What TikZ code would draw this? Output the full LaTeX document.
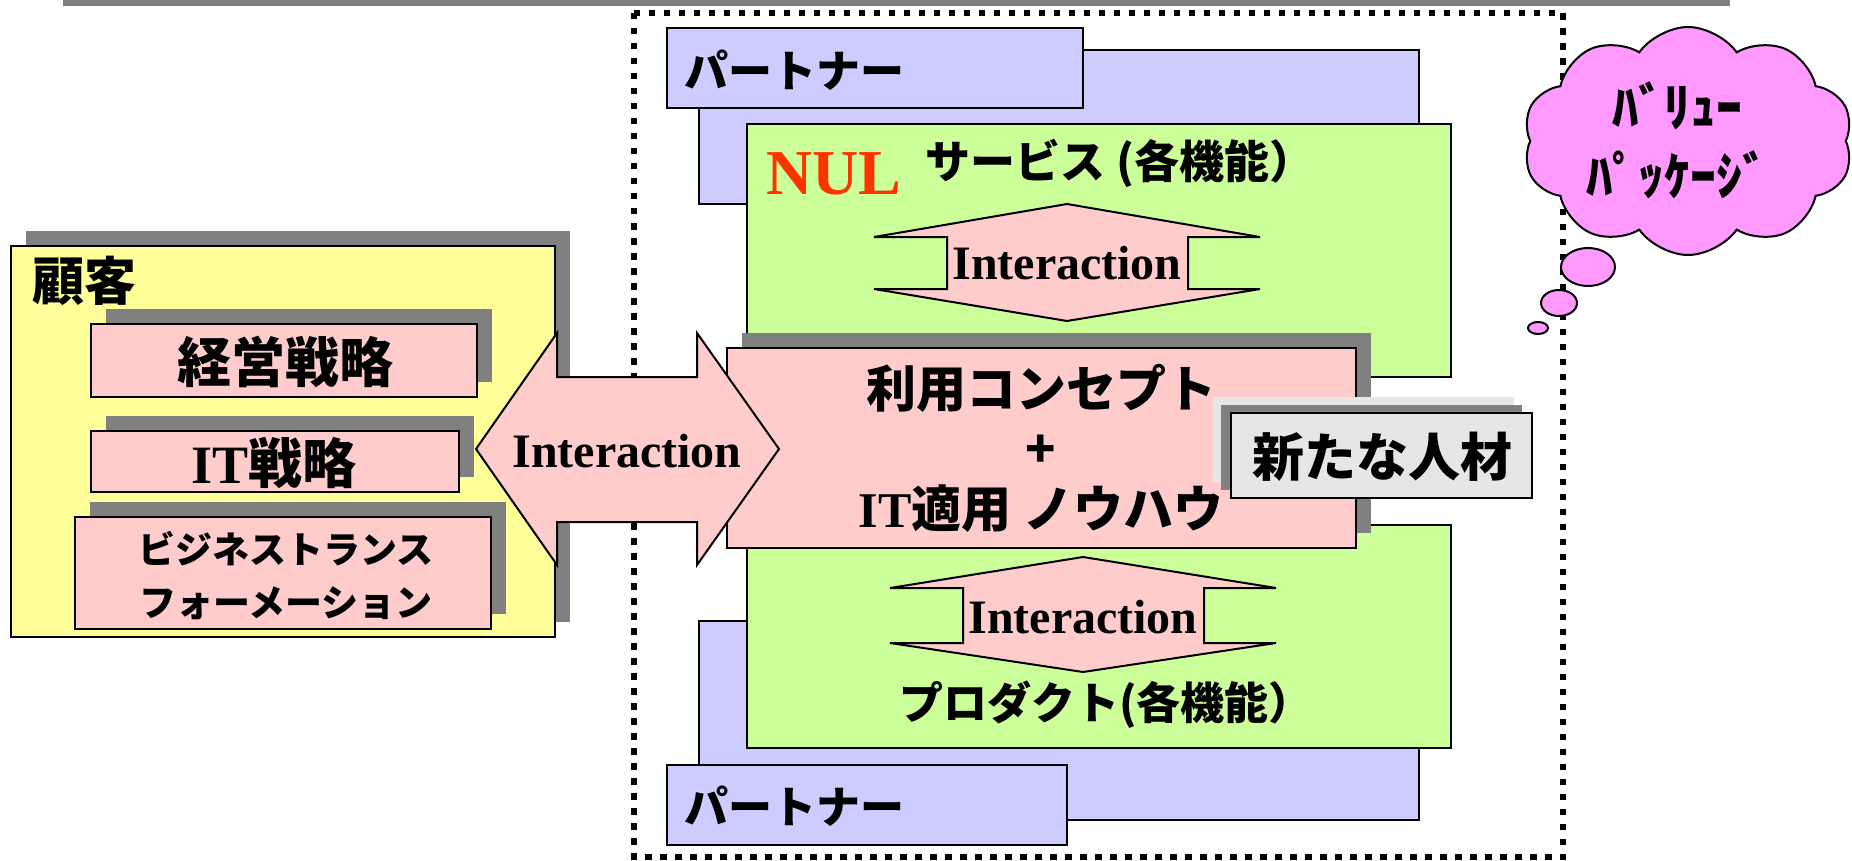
\documentclass[tikz,border=0pt]{standalone}
\usepackage{fontspec}
\setmainfont{Liberation Serif}
\newfontfamily\jp{Noto Sans CJK JP}
\usetikzlibrary{shapes.symbols,shadows}
\definecolor{sgray}{HTML}{808080}
\definecolor{lgray}{HTML}{E6E6E6}
\definecolor{ylw}{HTML}{FFFF99}
\definecolor{pnk}{HTML}{FFCCCC}
\definecolor{grn}{HTML}{CCFF99}
\definecolor{lav}{HTML}{CCCCFF}
\definecolor{cpink}{HTML}{FF99FF}
\definecolor{nulred}{HTML}{FF3300}
\newcommand{\myfs}[2]{\fontsize{#1}{#2}\selectfont}
\begin{document}
\begin{tikzpicture}[x=1pt,y=-1pt,
  box/.style={draw=black, line width=2pt, anchor=north west, inner sep=0pt, outer sep=0pt},
  shd/.style={drop shadow={shadow xshift=15pt, shadow yshift=15pt, fill=sgray, opacity=1}},
  shdn/.style={drop shadow={shadow xshift=-18pt, shadow yshift=16pt, fill=lgray, opacity=1},
               drop shadow={shadow xshift=-10pt, shadow yshift=8pt, fill=sgray, opacity=1}},
  jtext/.style={inner sep=0pt, align=center},
  arr/.style={draw=black, line width=2pt, fill=pnk, line join=miter},
  itext/.style={inner sep=0pt, font=\bfseries\myfs{48}{48}},
  bub/.style={draw=black, line width=2pt, fill=cpink}]
\useasboundingbox (0,0) rectangle (1852,861);
% top bar
\fill[sgray] (63,0) rectangle (1730,6);
% dotted frame
\draw[line width=6.5pt, dash pattern=on 6.5pt off 8.5pt] (634,13) rectangle (1563,857);
% partners
\node[box, fill=lav, minimum width=720pt, minimum height=154pt] (ptb) at (699,50) {};
\node[box, fill=lav, minimum width=416pt, minimum height=80pt] (ptf) at (667,28) {};
\node[jtext, anchor=west, font=\jp\bfseries\myfs{44}{44}] (ptt) at (684,70) {パートナー};
\node[box, fill=lav, minimum width=720pt, minimum height=199pt] (pbb) at (699,621) {};
\node[box, fill=lav, minimum width=400pt, minimum height=80pt] (pbf) at (667,765) {};
\node[jtext, anchor=west, font=\jp\bfseries\myfs{44}{44}] (pbt) at (684,806) {パートナー};
% green boxes
\node[box, fill=grn, minimum width=704pt, minimum height=253pt] (svc) at (747,124) {};
\node[box, fill=grn, minimum width=704pt, minimum height=223pt] (prd) at (747,525) {};
\node[anchor=base west, inner sep=0pt, text=nulred, font=\bfseries\myfs{64}{64}] (nul) at (766,195) {NUL};
\node[jtext, font=\jp\bfseries\myfs{45}{45}] (svct) at (1120,163) {サービス (各機能）};
\node[jtext, font=\jp\bfseries\myfs{44}{44}] (prdt) at (1106,705) {プロダクト(各機能）};
% small interaction arrows
\draw[arr] (1067,204) -- (1260,237) -- (1188,237) -- (1188,289) -- (1260,289) -- (1067,321) -- (874,289) -- (947,289) -- (947,237) -- (874,237) -- cycle;
\node[itext] (svci) at (1067,263) {Interaction};
\draw[arr] (1083,557) -- (1276,588) -- (1204,588) -- (1204,643) -- (1276,643) -- (1083,672) -- (890,643) -- (963,643) -- (963,588) -- (890,588) -- cycle;
\node[itext] (prdi) at (1083,617) {Interaction};
% core box
\node[box, shd, fill=pnk, minimum width=629pt, minimum height=200pt] (core) at (727,348) {};
\node[jtext, font=\jp\bfseries\myfs{50}{60}] (coret) at (1041,448) {利用コンセプト\\+\\{\rmfamily IT}適用 ノウハウ};
% new talent
\node[box, shdn, fill=lgray, minimum width=301pt, minimum height=85pt] (jin) at (1231,413) {};
\node[jtext, font=\jp\bfseries\myfs{52}{52}] (jint) at (1382,457) {新たな人材};
% customer
\node[box, shd, fill=ylw, minimum width=544pt, minimum height=391pt] (cust) at (11,246) {};
\node[jtext, font=\jp\bfseries\myfs{52}{52}] (custt) at (84,281) {顧客};
\node[box, shd, fill=pnk, minimum width=386pt, minimum height=73pt] (keiei) at (91,324) {};
\node[jtext, font=\jp\bfseries\myfs{54}{54}] (keieit) at (285,362) {経営戦略};
\node[box, shd, fill=pnk, minimum width=368pt, minimum height=61pt] (its) at (91,431) {};
\node[jtext, font=\jp\bfseries\myfs{54}{54}] (itst) at (274,463) {{\rmfamily IT}戦略};
\node[box, shd, fill=pnk, minimum width=416pt, minimum height=112pt] (bt) at (75,517) {};
\node[jtext, font=\jp\bfseries\myfs{37}{53}] (btt) at (286,576) {ビジネストランス\\フォーメーション};
% big arrow
\draw[arr] (476,449) -- (557,333) -- (557,377) -- (697,377) -- (697,333) -- (779,449) -- (697,565) -- (697,522) -- (557,522) -- (557,565) -- cycle;
\node[inner sep=0pt, font=\bfseries\myfs{48}{48}] (bigi) at (627,451) {Interaction};
% cloud
\node[cloud, draw=black, line width=2pt, fill=cpink, cloud puffs=10, cloud puff arc=110, cloud ignores aspect, minimum width=330pt, minimum height=228pt] (cloud) at (1688,141) {};
\node[jtext, font=\jp\bfseries\myfs{52}{69}] (cloudt) at (1677,140) {ﾊﾞﾘｭｰ\\ﾊﾟｯｹｰｼﾞ};
\draw[bub] (1588,267) ellipse [x radius=27pt, y radius=19pt];
\draw[bub] (1559,303) ellipse [x radius=18pt, y radius=13pt];
\draw[bub] (1538,328) ellipse [x radius=10pt, y radius=6pt];
\end{tikzpicture}
\end{document}
